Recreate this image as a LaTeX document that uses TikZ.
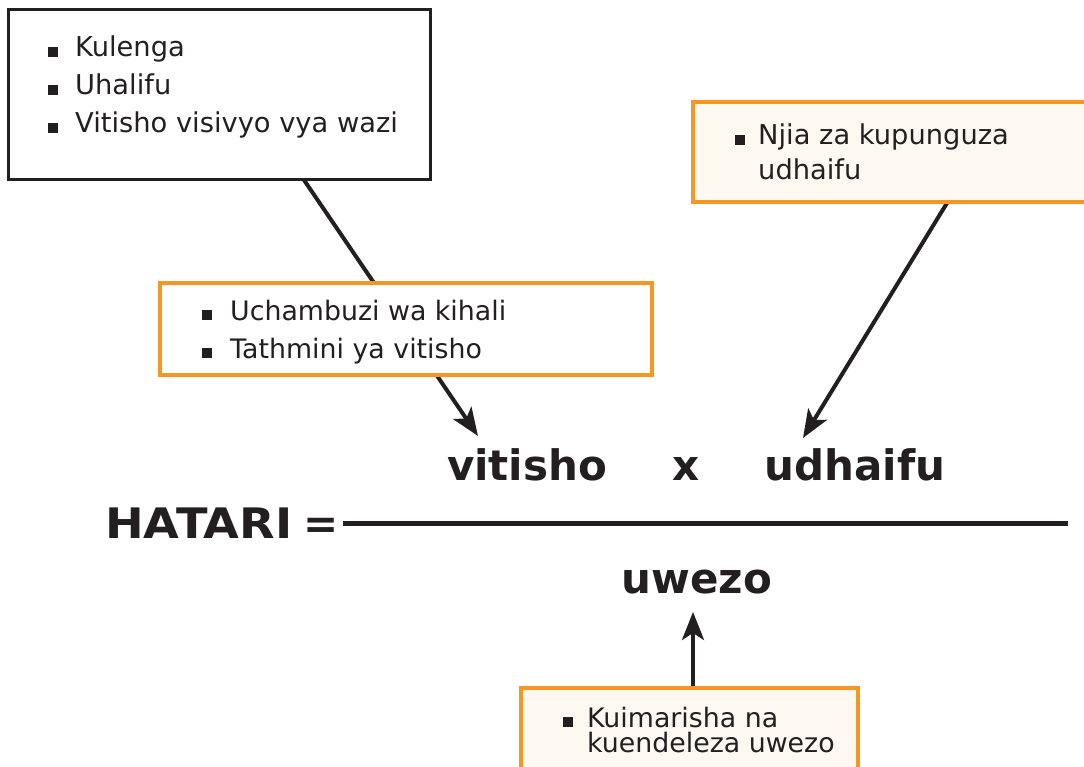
\documentclass[tikz,border=0pt]{standalone}
\usepackage{fontspec}
\setmainfont{DejaVu Sans}
\usetikzlibrary{arrows.meta}
\definecolor{ink}{RGB}{35,31,32}
\definecolor{orng}{RGB}{247,150,35}
\definecolor{cream}{RGB}{253,248,240}
\begin{document}
\begin{tikzpicture}[x=1pt,y=-1pt,
  blkbox/.style={draw=ink,line width=3pt,fill=white,inner sep=0,rectangle},
  orbox/.style={draw=orng,line width=3.5pt,inner sep=0,rectangle},
  txt/.style={font=\fontsize{27.3}{30}\selectfont,text=ink,inner sep=0,anchor=base west},
  txtb/.style={font=\fontsize{26.8}{28}\selectfont,text=ink,inner sep=0,anchor=base west},
  big/.style={font=\bfseries\fontsize{42}{48}\selectfont,text=ink,inner sep=0,anchor=base},
  bul/.style={fill=ink,inner sep=0,minimum width=10pt,minimum height=10pt,anchor=south west,rectangle},
  arr/.style={draw=ink,line width=4pt,-{Stealth[length=28pt,width=22pt,inset=7pt]}}
]
\useasboundingbox (0,0) rectangle (1084,767);
\clip (0,0) rectangle (1084,767);
\fill[white] (0,0) rectangle (1084,767);

% arrow end points
\coordinate (s1) at (304,180);
\coordinate (t1) at (478,436);
\coordinate (s2) at (947,203);
\coordinate (t2) at (803,438);
\coordinate (s3) at (693,688);
\coordinate (t3) at (693,612);

% connectors (drawn first, boxes cover them)
\draw[arr] (s1) -- (t1);
\draw[arr] (s2) -- (t2);
\draw[arr] (s3) -- (t3);

% box 1
\node[blkbox,minimum width=422pt,minimum height=170pt] (b1) at (219,95) {};
\node[bul] (b1a) at (48,57) {};
\node[txt] (k1) at (75,57) {Kulenga};
\node[bul] (b1b) at (48,95) {};
\node[txt] (k2) at (75,95) {Uhalifu};
\node[bul] (b1c) at (48,133) {};
\node[txt] (k3) at (75,133) {Vitisho visivyo vya wazi};

% right box
\node[orbox,fill=cream,minimum width=400pt,minimum height=100pt] (b2) at (893,152) {};
\node[bul] (b2a) at (735,145) {};
\node[txt] (n1) at (758,145) {Njia za kupunguza};
\node[txt] (n2) at (758,180) {udhaifu};

% middle box
\node[orbox,fill=white,minimum width=492pt,minimum height=92pt] (b3) at (406,329) {};
\node[bul] (b3a) at (202,320) {};
\node[txtb] (u1) at (230,320) {Uchambuzi wa kihali};
\node[bul] (b3b) at (202,358) {};
\node[txtb] (u2) at (230,358) {Tathmini ya vitisho};

% bottom box
\node[orbox,fill=cream,minimum width=337pt,minimum height=100pt] (b4) at (689.5,738) {};
\node[bul] (b4a) at (563,727) {};
\node[txtb] (q1) at (587,727) {Kuimarisha na};
\node[txtb] (q2) at (587,752) {kuendeleza uwezo};

% formula
\node[big] (vit) at (527,480) {vitisho};
\node[big] (xx) at (686,480) {x};
\node[big] (udh) at (855,480) {udhaifu};
\node[big,anchor=base west] (hat) at (105,538) {\scalebox{1.1}[1]{HATARI}};
\node[big,anchor=base west] (eq) at (303,538) {=};
\coordinate (fl) at (343,523);
\coordinate (fr) at (1068,523);
\draw[ink,line width=5pt] (fl) -- (fr);
\node[big] (uwe) at (697,593) {uwezo};
\end{tikzpicture}
\end{document}
